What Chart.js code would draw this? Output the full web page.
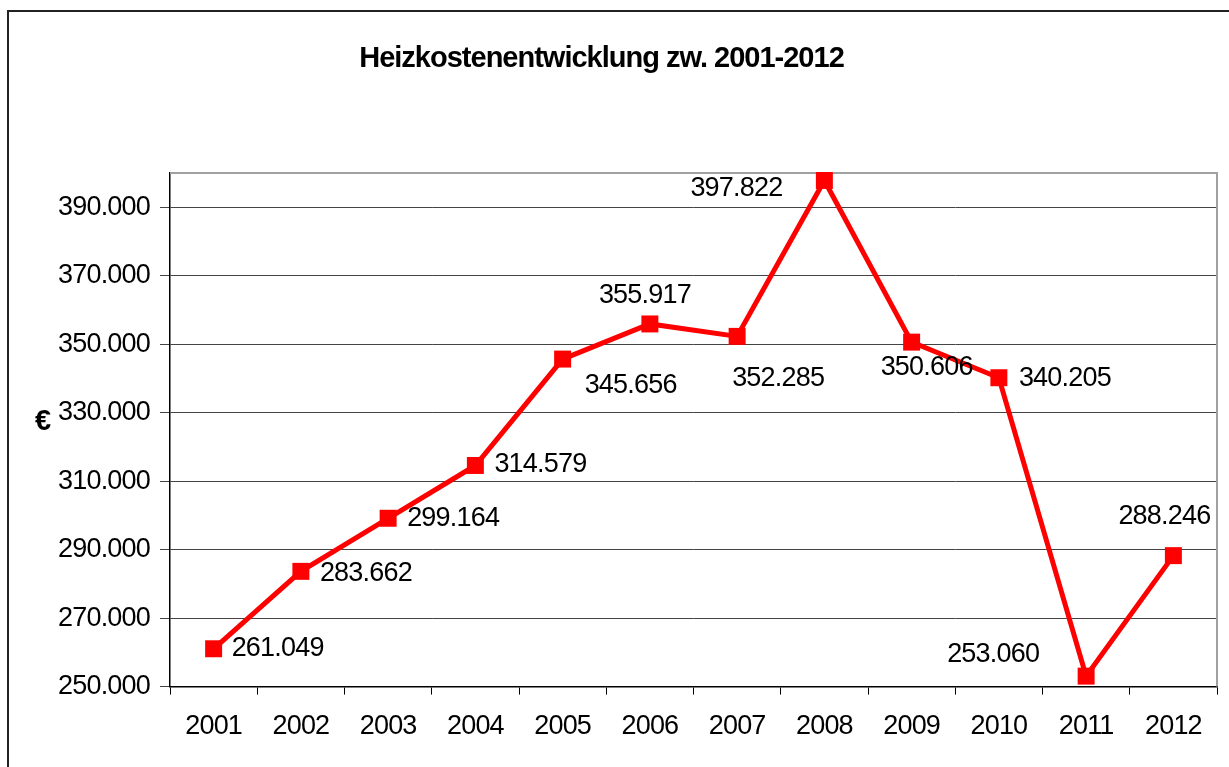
<!DOCTYPE html>
<html>
<head>
<meta charset="utf-8">
<script src="https://cdn.jsdelivr.net/npm/chart.js@4"></script>
<style>
    html, body { margin: 0; padding: 0; background: #fff; overflow: hidden; }
    #wrap { width: 1229px; height: 767px; }
</style>
</head>
<body>
<div id="wrap"><canvas id="heizkosten"></canvas></div>
<script>
const years = ["2001", "2002", "2003", "2004", "2005", "2006", "2007", "2008", "2009", "2010", "2011", "2012"];
const kosten = [261049, 283662, 299164, 314579, 345656, 355917, 352285, 397822, 350606, 340205, 253060, 288246];
const yTicks = [250000, 270000, 290000, 310000, 330000, 350000, 370000, 390000];
const chartTitle = "Heizkostenentwicklung zw. 2001-2012";
const yTitle = "€";

// where each value label sits relative to its point (text centre)
const labelOffsets = [
    [64, 0], [65, 2], [65, 0], [65, -1], [68, 26], [-5, -28],
    [41, 42], [-88, 8], [15, 25], [66, 1], [-93, -22], [-9, -39]
];

const FONT = "'Liberation Sans', Arial, sans-serif";
const RED = "#ff0000";

// 261049 -> "261.049"
const fmt = (v) => String(v).replace(/\B(?=(\d{3})+(?!\d))/g, ".");

const tightText = {
    id: "tightText",
    beforeUpdate(chart) {
        chart.ctx.letterSpacing = "-0.8px";
    },
    beforeDraw(chart) {
        const ctx = chart.ctx;
        ctx.letterSpacing = "-0.8px";
        // outer frame, runs off the right and bottom edge
        ctx.save();
        ctx.strokeStyle = "#222";
        ctx.lineWidth = 2;
        ctx.strokeRect(8, 11, chart.width + 50, chart.height + 50);
        ctx.restore();
    },
};

const decorations = {
    id: "decorations",
    beforeDatasetsDraw(chart) {
        const { ctx, chartArea } = chart;
        // grey top and right edge of the plot box
        ctx.save();
        ctx.strokeStyle = "#a0a0a0";
        ctx.lineWidth = 2;
        ctx.beginPath();
        ctx.moveTo(chartArea.left, chartArea.top);
        ctx.lineTo(chartArea.right, chartArea.top);
        ctx.lineTo(chartArea.right, chartArea.bottom);
        ctx.stroke();
        ctx.restore();
    },
    afterDraw(chart) {
        const { ctx, chartArea } = chart;
        ctx.save();
        ctx.fillStyle = "#000";

        // title
        ctx.letterSpacing = "-1px";
        ctx.font = "bold 29px " + FONT;
        ctx.textAlign = "center";
        ctx.textBaseline = "alphabetic";
        ctx.fillText(chartTitle, chart.width / 2 - 13, 67);

        // upright euro sign left of the axis
        ctx.letterSpacing = "0px";
        ctx.font = "bold 29px " + FONT;
        ctx.textBaseline = "middle";
        ctx.fillText(yTitle, chartArea.left - 127, (chartArea.top + chartArea.bottom) / 2 - 8);

        // value labels
        ctx.letterSpacing = "-0.8px";
        ctx.font = "27px " + FONT;
        const meta = chart.getDatasetMeta(0);
        meta.data.forEach((pt, i) => {
            const [dx, dy] = labelOffsets[i];
            ctx.fillText(fmt(kosten[i]), pt.x + dx, pt.y + dy);
        });
        ctx.restore();
    },
};

new Chart(document.getElementById("heizkosten"), {
    type: "line",
    data: {
        labels: years,
        datasets: [
            {
                data: kosten,
                borderColor: RED,
                backgroundColor: RED,
                borderWidth: 5,
                pointStyle: "rect",
                pointRadius: 12,
                pointBorderWidth: 0,
                pointBackgroundColor: RED,
                tension: 0,
                clip: false,
            },
        ],
    },
    options: {
        responsive: true,
        maintainAspectRatio: false,
        animation: false,
        layout: { padding: { top: 173, left: 57, right: 9, bottom: 8 } },
        plugins: {
            legend: { display: false },
            title: { display: false },
            tooltip: { enabled: false },
        },
        scales: {
            x: {
                offset: true,
                grid: {
                    offset: true,
                    drawOnChartArea: false,
                    drawTicks: true,
                    tickLength: 8,
                    color: "#000",
                },
                border: { color: "#000", width: 1.5 },
                ticks: {
                    color: "#000",
                    padding: 16,
                    maxRotation: 0,
                    font: { family: FONT, size: 27 },
                },
            },
            y: {
                min: 250000,
                max: 400000,
                afterBuildTicks(scale) {
                    scale.ticks = yTicks.map((v) => ({ value: v }));
                },
                afterFit(scale) {
                    scale.width = 113;
                },
                grid: {
                    color: "#444",
                    tickLength: 10,
                },
                border: { color: "#000", width: 1.5 },
                ticks: {
                    color: "#000",
                    padding: 10,
                    font: { family: FONT, size: 27 },
                    callback: (v) => fmt(v),
                },
            },
        },
    },
    plugins: [tightText, decorations],
});
</script>
</body>
</html>
